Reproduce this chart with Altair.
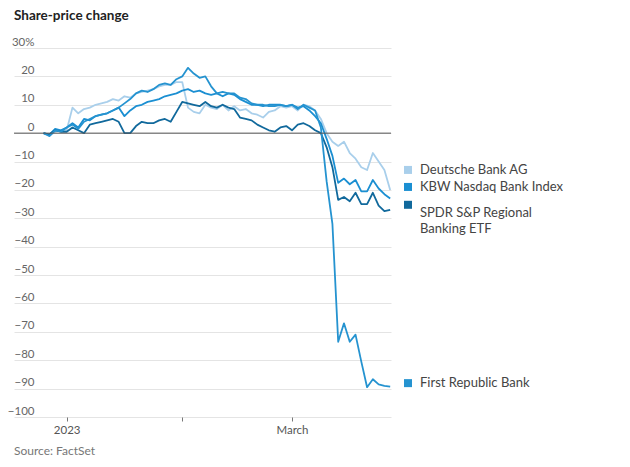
import altair as alt
import pandas as pd

# ---- data (percent change vs. start) ----
dates = (
    ["2022-12-27", "2022-12-28", "2022-12-29", "2022-12-30"]
    + ["2023-01-%02d" % d for d in [3, 4, 5, 6, 9, 10, 11, 12, 13, 17, 18, 19, 20, 23, 24, 25, 26, 27, 30, 31]]
    + ["2023-02-%02d" % d for d in [1, 2, 3, 6, 7, 8, 9, 10, 13, 14, 15, 16, 17, 21, 22, 23, 24, 27, 28]]
    + ["2023-03-%02d" % d for d in [1, 2, 3, 6, 7, 8, 9, 10, 13, 14, 15, 16, 17, 20, 21, 22, 23, 24]]
)

deutsche = [0, -1, 0.5, 1,
            1, 9, 7, 8.5, 9, 10, 10.5, 11, 12, 11.5, 13, 12.5, 14, 14.5, 15, 15.5, 16.5, 17, 17, 18, 18,
            9, 7.5, 7, 10, 9, 8.5, 10, 8, 9.5, 8, 8.5, 7, 6.5, 5.5, 7.5, 8, 9.5, 9, 9.5, 8, 10, 9.5, 8,
            5, 0, -3, -4.5, -3, -7, -9, -12, -13, -7, -10, -13, -20]
first_republic = [0, -1, 1, 0.5,
                  2, 3, 1.5, 4, 5, 6, 6.5, 7, 8, 9, 10.5, 12, 14, 15, 14.5, 15.5, 17, 17.5, 17, 19, 20,
                  23, 21, 19.5, 20, 16.5, 14, 14.5, 14, 14, 12.5, 12, 10.5, 10, 10, 9.5, 9.5, 10, 9.5, 10, 8.5, 10, 9, 8,
                  2, -17, -32, -73.5, -67, -73.5, -71, -80.5, -89.5, -86.7, -88.5, -89, -89.3]
kbw = [0, -0.5, 1.5, 1,
       2, 3.5, 2, 5, 4.5, 6, 6.5, 7, 8, 9, 6, 8, 9.5, 10, 11, 11.5, 12, 13, 13.5, 14, 15,
       15.5, 14.5, 15, 14, 13.5, 14, 13, 14, 13.5, 12, 11, 10, 10, 9.5, 10, 10, 10, 9.5, 10, 9, 9.5, 8, 6,
       3.5, -2, -8, -17.5, -16, -18, -16.5, -20.5, -20.5, -16.5, -19.5, -21.5, -23]
spdr = [0, -0.5, 1, 0.5,
        0.5, 2, 1, 0, 3, 3.5, 4, 4.5, 5, 4, 0, 0, 2.5, 4, 3.5, 3.5, 4.5, 5, 4, 7.5, 11,
        10.5, 10, 9.5, 11, 9.5, 9, 10, 9, 8.5, 5.5, 5, 4.5, 3, 2, 1, 0.5, 2, 2.5, 1, 3, 3.5, 2.5, 1,
        0, -5, -12, -23.5, -22.5, -24, -21, -25, -25, -21, -25.5, -27.5, -27]

series_names = ["Deutsche Bank AG", "KBW Nasdaq Bank Index", "SPDR S&P Regional Banking ETF", "First Republic Bank"]
legend_text = ["Deutsche Bank AG", "KBW Nasdaq Bank Index", "SPDR S&P Regional\nBanking ETF", "First Republic Bank"]
series_values = [deutsche, kbw, spdr, first_republic]
colors = ["#a9cfeb", "#1b8fd2", "#11699c", "#2593d0"]

y_ticks = list(range(-100, 31, 10))
x_tick_labels = {"2023-01-03": "2023", "2023-02-01": "", "2023-03-01": "March"}

title_text = "Share-price change"
source_text = "Source: FactSet"

# ---- tables ----
rows = []
for name, vals in zip(series_names, series_values):
    for i, (d, v) in enumerate(zip(dates, vals)):
        rows.append({"series": name, "date": d, "day": i, "value": v})
df = pd.DataFrame(rows)
zero_df = pd.DataFrame({"value": [0]})
last_day = len(dates) - 1

tick_days = [dates.index(d) for d in x_tick_labels]
label_expr = " : ".join(
    f"datum.value == {dates.index(d)} ? '{lab}'" for d, lab in x_tick_labels.items()
) + " : ''"

FONT = "Lato"
W, H = 377, 369
x_scale = alt.Scale(domain=[-5.12, 60.14], nice=False, zero=False)
y_scale = alt.Scale(domain=[-100, 30], nice=False, zero=False)

y_axis = alt.Axis(values=y_ticks, grid=True, gridColor="#e4e4e4", gridWidth=1,
                  domain=False, ticks=False, tickSize=0,
                  labelAlign="right", labelBaseline="bottom", labelPadding=-20,
                  labelOffset=-1, labelColor="#666", labelFontSize=11.5, labelFont=FONT,
                  labelOverlap=False, labelFlush=False,
                  labelExpr="datum.value == 30 ? '30%' : datum.label", title=None)
x_axis = alt.Axis(values=tick_days, labelExpr=label_expr, grid=False, domain=False,
                  ticks=True, tickSize=4, tickColor="#777", tickWidth=1,
                  labelColor="#555", labelFontSize=11.5, labelFont=FONT,
                  labelPadding=3, labelOverlap=False, title=None)

Y = alt.Y("value:Q", scale=y_scale, axis=y_axis, title=None)

base = alt.Chart(df)

lines = base.mark_line(strokeWidth=1.8, strokeJoin="round").encode(
    x=alt.X("day:Q", scale=x_scale, axis=x_axis, title=None),
    y=Y,
    color=alt.Color("series:N", scale=alt.Scale(domain=series_names, range=colors), legend=None),
    order=alt.Order("day:Q"),
    detail="series:N",
)

zero = alt.Chart(zero_df).mark_rule(color="#555", strokeWidth=1).encode(y=Y)

# direct legend beside line ends
legend_dy = [-20, -11.5, 3, -3.5]
legend_layers = []
for name, txt, col, dy in zip(series_names, legend_text, colors, legend_dy):
    sub = base.transform_filter(
        (alt.datum.series == name) & (alt.datum.day == last_day)
    ).transform_calculate(label="'" + txt.replace("\n", "\\n") + "'")
    sq_dy = dy if "\n" not in txt else dy - 8
    legend_layers.append(
        sub.mark_square(size=64, color=col, opacity=1, yOffset=sq_dy).encode(
            x=alt.value(394), y=Y)
    )
    legend_layers.append(
        sub.mark_text(align="left", baseline="middle", dy=dy, fontSize=13, font=FONT,
                      color="#444", lineBreak="\n", lineHeight=16).encode(
            x=alt.value(406), y=Y, text="label:N")
    )

title = alt.Chart(pd.DataFrame({"t": [title_text]})).mark_text(
    align="left", baseline="top", fontSize=13.5, fontWeight="bold", font=FONT, color="#222"
).encode(x=alt.value(0), y=alt.value(-39), text="t:N")

source = alt.Chart(pd.DataFrame({"t": [source_text]})).mark_text(
    align="left", baseline="bottom", fontSize=12, font=FONT, color="#777"
).encode(x=alt.value(0), y=alt.value(410), text="t:N")

chart = alt.layer(lines, zero, *legend_layers, title, source).properties(
    width=W, height=H,
    background="white",
    autosize=alt.AutoSizeParams(type="none"),
    padding={"left": 6, "top": 40, "right": 231, "bottom": 42},
).configure_view(stroke=None)

chart.save("out.html", embed_options={"renderer": "svg", "actions": False})
